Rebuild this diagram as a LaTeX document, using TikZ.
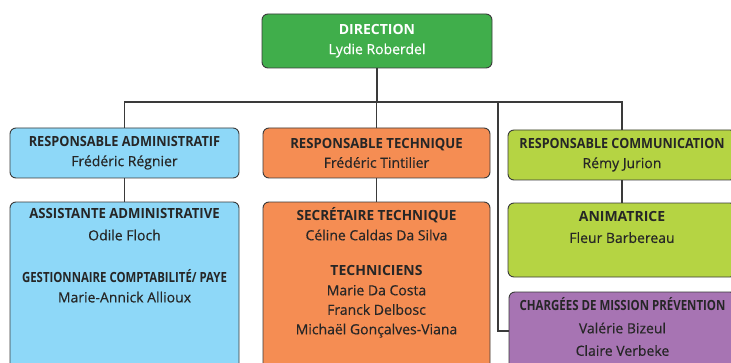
\documentclass[tikz,border=0pt]{standalone}
\usepackage{fontspec}
\usepackage{graphicx}
\setmainfont{Open Sans}[UprightFeatures={FakeBold=0.4}]
\usetikzlibrary{positioning}

\definecolor{dirgreen}{HTML}{40AE4B}
\definecolor{admblue}{HTML}{8ED8F8}
\definecolor{techorange}{HTML}{F58D53}
\definecolor{comlime}{HTML}{B5D443}
\definecolor{prevpurple}{HTML}{A774B3}
\definecolor{edgegray}{HTML}{3A3A3A}
\definecolor{inkgray}{HTML}{262626}

% squeezed capitals for the long headings
\newcommand{\squeezed}[2]{\scalebox{#1}[1]{\textbf{#2}}}

\begin{document}
\begin{tikzpicture}[
            x=1pt, y=1pt,
            box/.style={draw=edgegray, line width=0.9pt, rounded corners=6pt, inner sep=0pt,
                        minimum width=229pt, align=center, text=inkgray},
            link/.style={draw=edgegray, line width=1.9pt},
            boxtext/.style={inner sep=0pt, align=center, text=inkgray},
            every node/.append style={font=\fontsize{14}{19.5}\selectfont}
        ]
            \useasboundingbox (0,0) rectangle (731,362);

            % Top
            \node[box, fill=dirgreen, minimum width=230pt, minimum height=54pt, text=white] (dir) at (377,321)
                {\textbf{DIRECTION}\\Lydie Roberdel};

            % Responsables
            \node[box, fill=admblue, minimum height=50pt] (radm) at (124.5,209)
                {\squeezed{.91}{RESPONSABLE ADMINISTRATIF}\\Frédéric Régnier};
            \node[box, fill=techorange, minimum width=227pt, minimum height=50pt] (rtech) at (376.5,209)
                {\squeezed{.94}{RESPONSABLE TECHNIQUE}\\Frédéric Tintilier};
            \node[box, fill=comlime, minimum width=228pt, minimum height=50pt] (rcom) at (622,207)
                {\squeezed{.9}{RESPONSABLE COMMUNICATION}\\Rémy Jurion};

            % Teams
            \node[box, fill=admblue, minimum height=180pt] (asst) at (124.5,70) {};
            \node[boxtext, below=7pt of asst.north] (asstT)
                {\squeezed{.94}{ASSISTANTE ADMINISTRATIVE}\\[2pt]
                 Odile Floch\\[23pt]
                 \squeezed{.815}{GESTIONNAIRE COMPTABILITÉ/ PAYE}\\
                 Marie-Annick Allioux};

            \node[box, fill=techorange, minimum width=227pt, minimum height=180pt] (sect) at (376.5,70) {};
            \node[boxtext, below=6pt of sect.north] (sectT)
                {\squeezed{.97}{SECRÉTAIRE TECHNIQUE}\\
                 Céline Caldas Da Silva\\[16pt]
                 \textbf{TECHNICIENS}\\
                 Marie Da Costa\\
                 Franck Delbosc\\
                 Michaël Gonçalves-Viana};

            \node[box, fill=comlime, minimum width=228pt, minimum height=74pt] (anim) at (622,122) {};
            \node[boxtext, below=9pt of anim.north] (animT)
                {\textbf{ANIMATRICE}\\[1.5pt]Fleur Barbereau};

            \node[box, fill=prevpurple, minimum width=227pt, minimum height=90pt] (charg) at (622.5,25) {};
            \node[boxtext, below=6pt of charg.north] (chargT)
                {\squeezed{.82}{CHARGÉES DE MISSION PRÉVENTION}\\[3pt]
                 Valérie Bizeul\\[3pt]
                 Claire Verbeke};

            % Connectors
            \coordinate (bus) at (377,260);
            \coordinate (drop) at (498,260);
            \draw[link] (dir.south) -- (bus);
            \draw[link] (radm.north) |- (bus) -| (rcom.north);
            \draw[link] (rtech.north) -- (rtech.north |- bus);
            \draw[link] (drop) |- ([yshift=-39pt]charg.north west);
            \draw[link] (radm.south) -- (asst.north);
            \draw[link] (rtech.south) -- (sect.north);
            \draw[link] (rcom.south) -- (anim.north);
        \end{tikzpicture}
\end{document}
